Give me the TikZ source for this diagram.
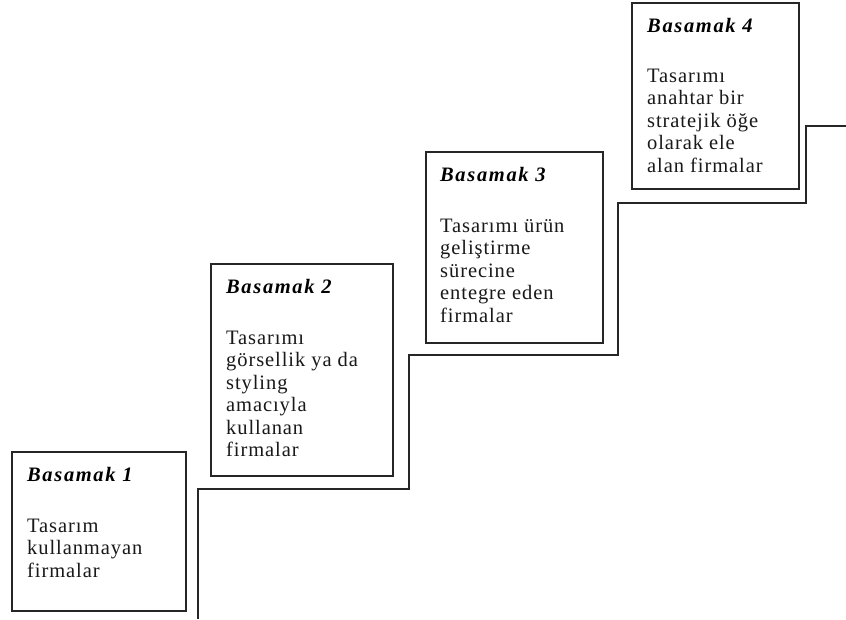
\documentclass[tikz,border=0pt]{standalone}
\usepackage{fontspec}
\setmainfont{Liberation Serif}[LetterSpace=4.5]
\begin{document}
\begin{tikzpicture}[x=1pt,y=-1pt,
  stepframe/.style={draw=black!85, line width=1.3pt, fill=white, inner sep=0pt, outer sep=0pt, anchor=north west},
  steptitle/.style={anchor=base west, inner sep=0pt,
    font=\fontsize{20.5}{22.5}\selectfont\bfseries\itshape\addfontfeatures{LetterSpace=8}},
  stepbody/.style={anchor=base west, inner sep=0pt, text=black!90,
    font=\fontsize{20.5}{22.5}\selectfont},
  stair/.style={draw=black!85, line width=1.3pt}]
\useasboundingbox (0,0) rectangle (846,619);

% staircase outline
\coordinate (s0) at (198,619);
\coordinate (s1) at (409,489);
\coordinate (s2) at (618,355);
\coordinate (s3) at (806,203);
\coordinate (s4) at (846,126);
\draw[stair] (s0) |- (s1) |- (s2) |- (s3) |- (s4);

% step 1
\node[stepframe, minimum width=174pt, minimum height=159pt] (b1) at (12,452) {};
\node[steptitle] (h1) at ([shift={(15,29.5)}]b1.north west) {Basamak 1};
\node[stepbody] (d1) at ([shift={(15,80)}]b1.north west)
  {\parbox[t]{170pt}{\raggedright Tasarım\\kullanmayan\\firmalar}};

% step 2
\node[stepframe, minimum width=182pt, minimum height=212pt] (b2) at (211,264) {};
\node[steptitle] (h2) at ([shift={(15,29.5)}]b2.north west) {Basamak 2};
\node[stepbody] (d2) at ([shift={(15,80)}]b2.north west)
  {\parbox[t]{170pt}{\raggedright Tasarımı\\görsellik ya da\\styling\\amacıyla\\kullanan\\firmalar}};

% step 3
\node[stepframe, minimum width=177pt, minimum height=191pt] (b3) at (426,152) {};
\node[steptitle] (h3) at ([shift={(14,29.5)}]b3.north west) {Basamak 3};
\node[stepbody] (d3) at ([shift={(14,80)}]b3.north west)
  {\parbox[t]{170pt}{\raggedright Tasarımı ürün\\geliştirme\\sürecine\\entegre eden\\firmalar}};

% step 4
\node[stepframe, minimum width=167pt, minimum height=186pt] (b4) at (632,3) {};
\node[steptitle] (h4) at ([shift={(15,29.5)}]b4.north west) {Basamak 4};
\node[stepbody] (d4) at ([shift={(15,79)}]b4.north west)
  {\parbox[t]{170pt}{\raggedright Tasarımı\\anahtar bir\\stratejik öğe\\olarak ele\\alan firmalar}};
\end{tikzpicture}
\end{document}
